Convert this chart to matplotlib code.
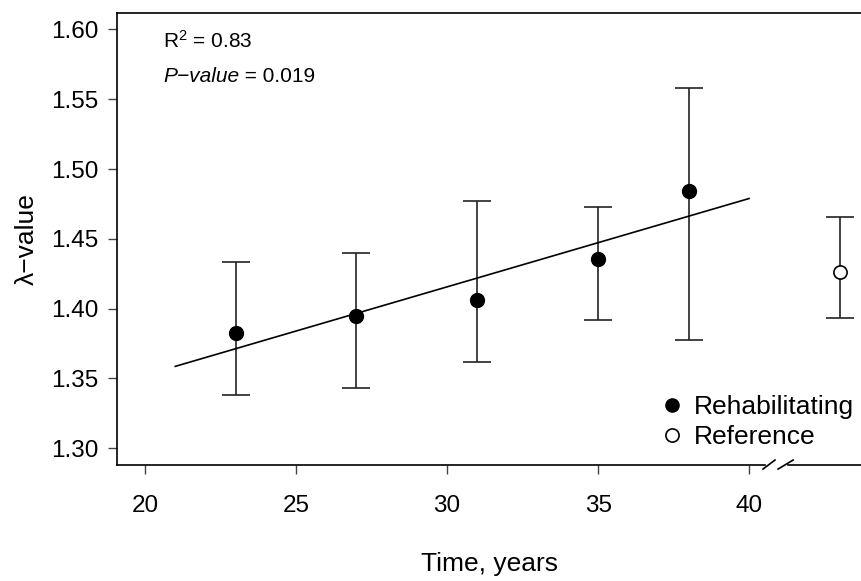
import numpy as np
import matplotlib
matplotlib.use("Agg")
from matplotlib import pyplot as plt
from matplotlib.lines import Line2D

plt.rcParams['font.family'] = ['Liberation Sans', 'DejaVu Sans']
plt.rcParams['mathtext.fontset'] = 'custom'
plt.rcParams['mathtext.rm'] = 'Liberation Sans'
plt.rcParams['mathtext.it'] = 'Liberation Sans:italic'

# rehabilitating sites
years = [23, 27, 31, 35, 38]
lam = [1.3824, 1.3948, 1.4062, 1.4356, 1.4845]
lam_hi = [1.4332, 1.4397, 1.4774, 1.4727, 1.5579]
lam_lo = [1.3380, 1.3430, 1.3618, 1.3919, 1.3776]

# reference site (plotted after the axis break)
ref_x = [43]
ref_lam = [1.4261]
ref_hi = [1.4659]
ref_lo = [1.3931]

fit_range = [21, 40]
yticks = [1.30, 1.35, 1.40, 1.45, 1.50, 1.55, 1.60]
xticks = [20, 25, 30, 35, 40]

fig = plt.figure(figsize=(8.62, 5.81), dpi=100)
ax = fig.add_axes([117/862, 116/581, 745/862, 452/581])

lam = np.array(lam)
err = [lam - np.array(lam_lo), np.array(lam_hi) - lam]
ax.errorbar(years, lam, yerr=err, fmt='o', color='black', ecolor='#222222',
            elinewidth=1.2, capsize=10, capthick=1.2, markersize=10)

ref_lam = np.array(ref_lam)
ref_err = [ref_lam - np.array(ref_lo), np.array(ref_hi) - ref_lam]
ax.errorbar(ref_x, ref_lam, yerr=ref_err, fmt='o', color='#222222',
            mfc='white', mec='black', mew=1.2, elinewidth=1.2, capsize=10,
            capthick=1.2, markersize=9.5)

# regression line
slope, icpt = np.polyfit(years, lam, 1)
fx = np.array(fit_range)
ax.plot(fx, icpt + slope * fx, color='black', lw=1.2)

ax.set_xlim(19.07, 43.74)
ax.set_ylim(1.28804, 1.6118)
ax.set_xticks(xticks)
ax.set_yticks(yticks)
ax.set_yticklabels(["%.2f" % v for v in yticks])
ax.tick_params(axis='both', labelsize=17.5, length=6.5, width=1, color='#444444')
ax.tick_params(axis='x', pad=15)
ax.tick_params(axis='y', pad=7)

ax.spines['right'].set_visible(False)
ax.spines['bottom'].set_visible(False)
for s in ['left', 'top']:
    ax.spines[s].set_linewidth(1.2)

# bottom axis with a break
tr = ax.get_xaxis_transform()
ax.plot([19.07, 40.53], [0, 0], color='black', lw=1.2, transform=tr, clip_on=False)
ax.plot([41.29, 43.74], [0, 0], color='black', lw=1.2, transform=tr, clip_on=False)
ax.plot([40.46, 40.86], [-0.009, 0.011], color='black', lw=1.2, transform=tr, clip_on=False)
ax.plot([40.96, 41.46], [-0.009, 0.011], color='black', lw=1.2, transform=tr, clip_on=False)

ax.set_xlabel("Time, years", fontsize=19, labelpad=25)
ax.set_ylabel("\u03bb\u2212value", fontsize=19, labelpad=9)

ax.text(0.0617, 0.9226, "R$^2$ = 0.83", fontsize=15, transform=ax.transAxes,
        va='baseline')
t1 = ax.text(0.0617, 0.8473, "P\u2212value", fontsize=15, style='italic',
             transform=ax.transAxes, va='baseline')
ax.annotate(" = 0.019", xy=(1, 0), xycoords=t1, fontsize=15, va='bottom')

handles = [Line2D([], [], marker='o', ls='none', color='black', markersize=9.5),
           Line2D([], [], marker='o', ls='none', mfc='white', mec='black',
                  mew=1.2, markersize=9.5)]
ax.legend(handles, ["Rehabilitating", "Reference"], loc='upper left',
          bbox_to_anchor=(0.727, 0.155), frameon=False, fontsize=19,
          handlelength=1.0, handletextpad=0.35, labelspacing=0.23,
          borderaxespad=0, borderpad=0)

plt.savefig("out.png", dpi=100)
